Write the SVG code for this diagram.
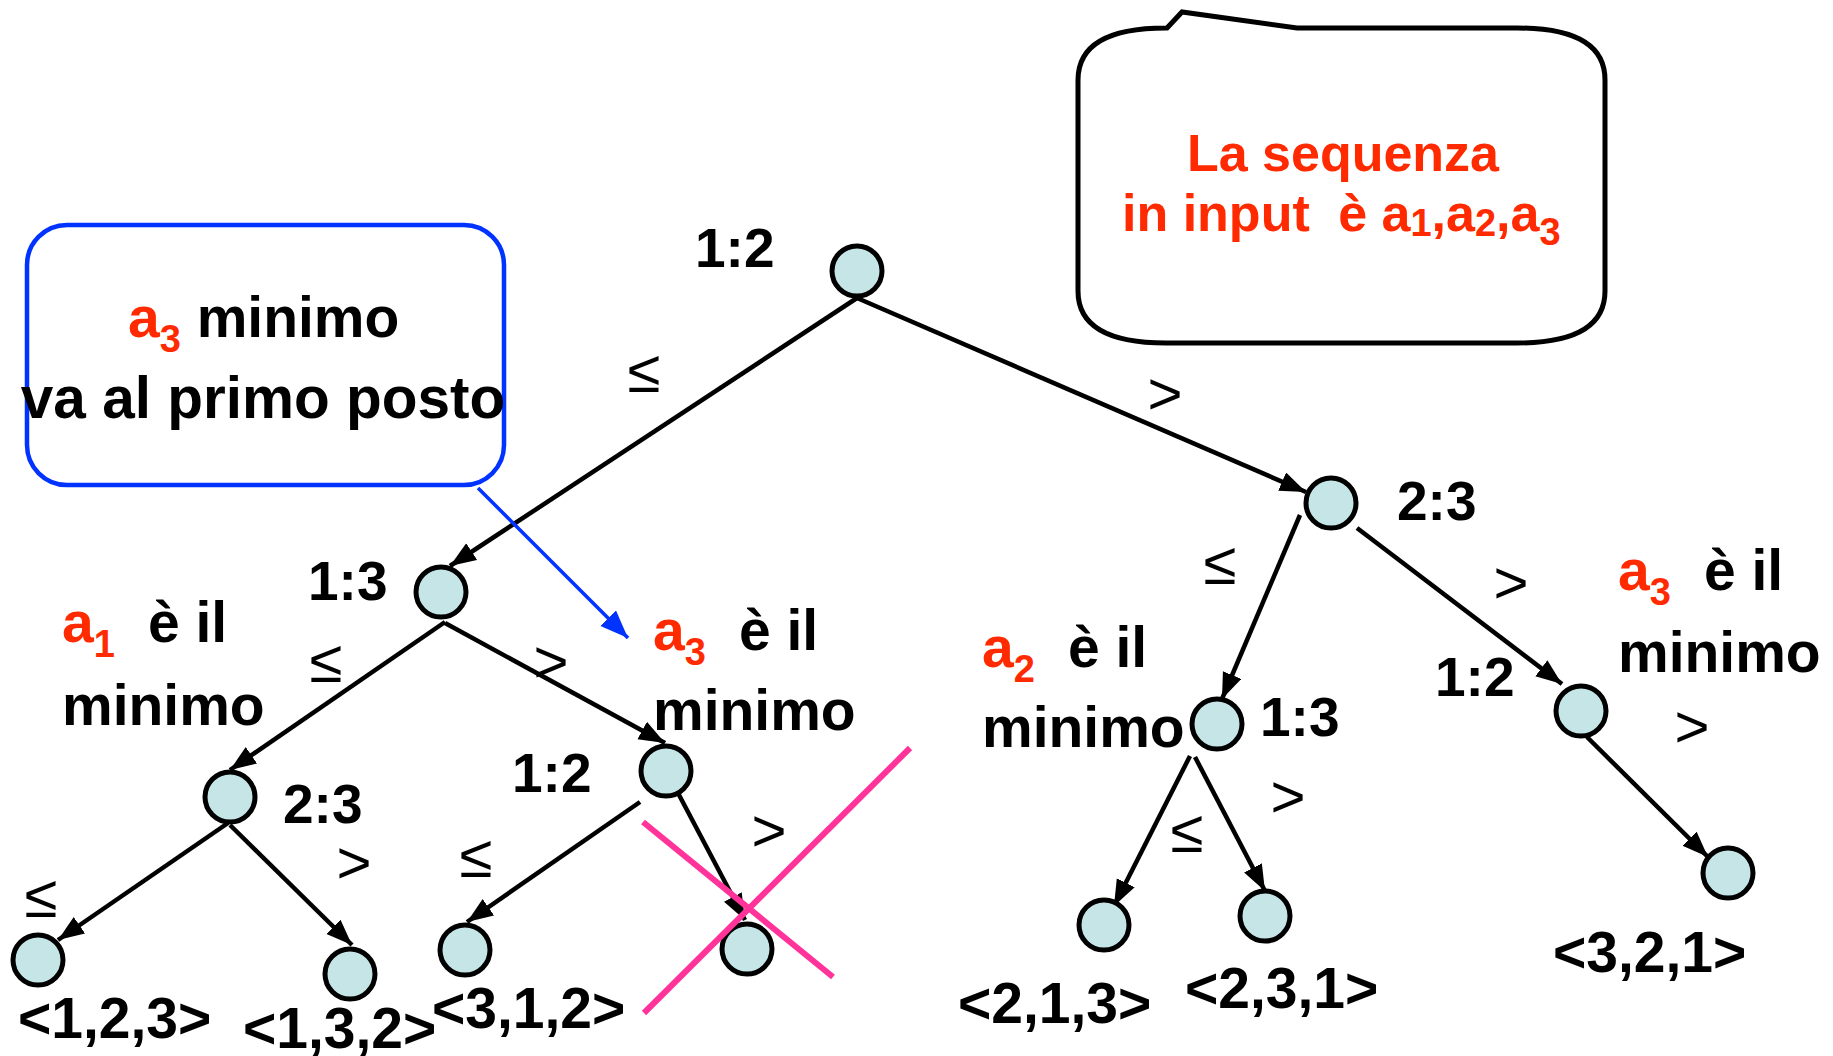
<svg xmlns="http://www.w3.org/2000/svg" width="1833" height="1056" viewBox="0 0 1833 1056">
<style>
text{font-family:"Liberation Sans",Arial,sans-serif;}
.b{font-weight:bold;font-size:57px;fill:#000;}
.nl{font-weight:bold;font-size:55px;fill:#000;}
.el{font-size:60px;fill:#000;}
.r{fill:#ff2a00;}
.node{fill:#c6e5e7;stroke:#000;stroke-width:5;}
.edge{stroke:#000;stroke-width:4.5;fill:none;marker-end:url(#ah);}
</style>
<defs>
<marker id="ah" markerUnits="userSpaceOnUse" markerWidth="28" markerHeight="22" refX="26" refY="10" orient="auto">
<path d="M0,0 L26,10 L0,20 Z" fill="#000"/>
</marker>
<marker id="ahb" markerUnits="userSpaceOnUse" markerWidth="30" markerHeight="24" refX="28" refY="11" orient="auto">
<path d="M0,0 L28,11 L0,22 Z" fill="#0033ff"/>
</marker>
</defs>
<rect width="1833" height="1056" fill="#fff"/>

<g id="bubble-input">
<path d="M1167,28 L1182,12 L1297,28 L1517,28 Q1605,28 1605,80 L1605,291 Q1605,343 1517,343 L1166,343 Q1078,343 1078,291 L1078,80 Q1078,28 1166,28 Z" fill="#fff" stroke="#000" stroke-width="5"/>
<text class="b r" text-anchor="middle" x="1343" y="171" style="font-size:52px">La sequenza</text>
<text class="b r" x="1122" y="231" style="font-size:52px">in input<tspan dx="14"> è a</tspan><tspan style="font-size:38px" dy="5">1</tspan><tspan dy="-5">,a</tspan><tspan style="font-size:38px" dy="5">2</tspan><tspan dy="-5">,a</tspan><tspan style="font-size:38px" dy="14">3</tspan></text>
</g>

<g id="box-a3-minimo">
<rect x="27" y="225" width="477" height="260" rx="40" ry="40" fill="#fff" stroke="#0033ff" stroke-width="4.5"/>
<text class="b" x="128" y="337"><tspan class="r">a</tspan><tspan class="r" style="font-size:38px" dy="15">3</tspan><tspan dy="-15"> minimo</tspan></text>
<text class="b" x="263" y="418" text-anchor="middle" style="font-size:58.5px">va al primo posto</text>
</g>

<g id="connectors">
<line class="edge" x1="857" y1="298" x2="450" y2="566"/>
<line class="edge" x1="857" y1="298" x2="1306" y2="492"/>
<line class="edge" x1="445" y1="622" x2="230" y2="770"/>
<line class="edge" x1="445" y1="623" x2="665" y2="743"/>
<line class="edge" x1="228" y1="823" x2="58" y2="940"/>
<line class="edge" x1="230" y1="825" x2="352" y2="945"/>
<line class="edge" x1="640" y1="802" x2="467" y2="922"/>
<line class="edge" x1="678" y1="793" x2="745" y2="920"/>
<line class="edge" x1="1300" y1="515" x2="1222" y2="699"/>
<line class="edge" x1="1357" y1="528" x2="1562" y2="684"/>
<line class="edge" x1="1190" y1="756" x2="1114" y2="906"/>
<line class="edge" x1="1195" y1="757" x2="1265" y2="891"/>
<line class="edge" x1="1587" y1="737" x2="1708" y2="857"/>
<line x1="478" y1="488" x2="628" y2="638" stroke="#0033ff" stroke-width="3.5" marker-end="url(#ahb)"/>
</g>

<g id="edge-labels">
<text class="el" x="644" y="392" text-anchor="middle">≤</text>
<text class="el" x="1165" y="414" text-anchor="middle">&gt;</text>
<text class="el" x="326" y="682" text-anchor="middle">≤</text>
<text class="el" x="551" y="682" text-anchor="middle">&gt;</text>
<text class="el" x="41" y="917" text-anchor="middle">≤</text>
<text class="el" x="354" y="883" text-anchor="middle">&gt;</text>
<text class="el" x="476" y="877" text-anchor="middle">≤</text>
<text class="el" x="769" y="851" text-anchor="middle">&gt;</text>
<text class="el" x="1220" y="584" text-anchor="middle">≤</text>
<text class="el" x="1511" y="603" text-anchor="middle">&gt;</text>
<text class="el" x="1187" y="852" text-anchor="middle">≤</text>
<text class="el" x="1288" y="817" text-anchor="middle">&gt;</text>
<text class="el" x="1692" y="747" text-anchor="middle">&gt;</text>
</g>

<g id="n-root"><circle class="node" cx="857" cy="271" r="25"/><text class="nl" x="695" y="267">1:2</text></g>
<g id="n-13L"><circle class="node" cx="441" cy="592" r="25"/><text class="nl" x="308" y="600">1:3</text></g>
<g id="n-23L"><circle class="node" cx="230" cy="797" r="25"/><text class="nl" x="283" y="823">2:3</text></g>
<g id="n-12M"><circle class="node" cx="666" cy="771" r="25"/><text class="nl" x="512" y="792">1:2</text></g>
<g id="n-23R"><circle class="node" cx="1331" cy="503" r="25"/><text class="nl" x="1397" y="520">2:3</text></g>
<g id="n-13R"><circle class="node" cx="1217" cy="724" r="25"/><text class="nl" x="1260" y="736">1:3</text></g>
<g id="n-12R"><circle class="node" cx="1581" cy="711" r="25"/><text class="nl" x="1435" y="696">1:2</text></g>

<g id="leaf-123"><circle class="node" cx="38" cy="960" r="25"/><text class="b" x="18" y="1038">&lt;1,2,3&gt;</text></g>
<g id="leaf-132"><circle class="node" cx="350" cy="974" r="25"/><text class="b" x="243" y="1048">&lt;1,3,2&gt;</text></g>
<g id="leaf-312"><circle class="node" cx="465" cy="950" r="25"/><text class="b" x="432" y="1028">&lt;3,1,2&gt;</text></g>
<g id="leaf-x"><circle class="node" cx="747" cy="949" r="25"/></g>
<g id="leaf-213"><circle class="node" cx="1104" cy="925" r="25"/><text class="b" x="958" y="1023">&lt;2,1,3&gt;</text></g>
<g id="leaf-231"><circle class="node" cx="1265" cy="916" r="25"/><text class="b" x="1185" y="1008">&lt;2,3,1&gt;</text></g>
<g id="leaf-321"><circle class="node" cx="1728" cy="873" r="25"/><text class="b" x="1553" y="972">&lt;3,2,1&gt;</text></g>

<g id="cross">
<line x1="643" y1="822" x2="833" y2="977" stroke="#ff3399" stroke-width="6"/>
<line x1="910" y1="748" x2="644" y2="1013" stroke="#ff3399" stroke-width="6"/>
</g>

<g id="notes">
<text class="b" x="62" y="642"><tspan class="r">a</tspan><tspan class="r" style="font-size:38px" dy="15">1</tspan><tspan x="148" dy="-15">è il</tspan></text>
<text class="b" x="62" y="725">minimo</text>
<text class="b" x="653" y="650"><tspan class="r">a</tspan><tspan class="r" style="font-size:38px" dy="15">3</tspan><tspan x="739" dy="-15">è il</tspan></text>
<text class="b" x="653" y="730">minimo</text>
<text class="b" x="982" y="667"><tspan class="r">a</tspan><tspan class="r" style="font-size:38px" dy="15">2</tspan><tspan x="1068" dy="-15">è il</tspan></text>
<text class="b" x="982" y="747">minimo</text>
<text class="b" x="1618" y="590"><tspan class="r">a</tspan><tspan class="r" style="font-size:38px" dy="15">3</tspan><tspan x="1704" dy="-15">è il</tspan></text>
<text class="b" x="1618" y="672">minimo</text>
</g>
</svg>
